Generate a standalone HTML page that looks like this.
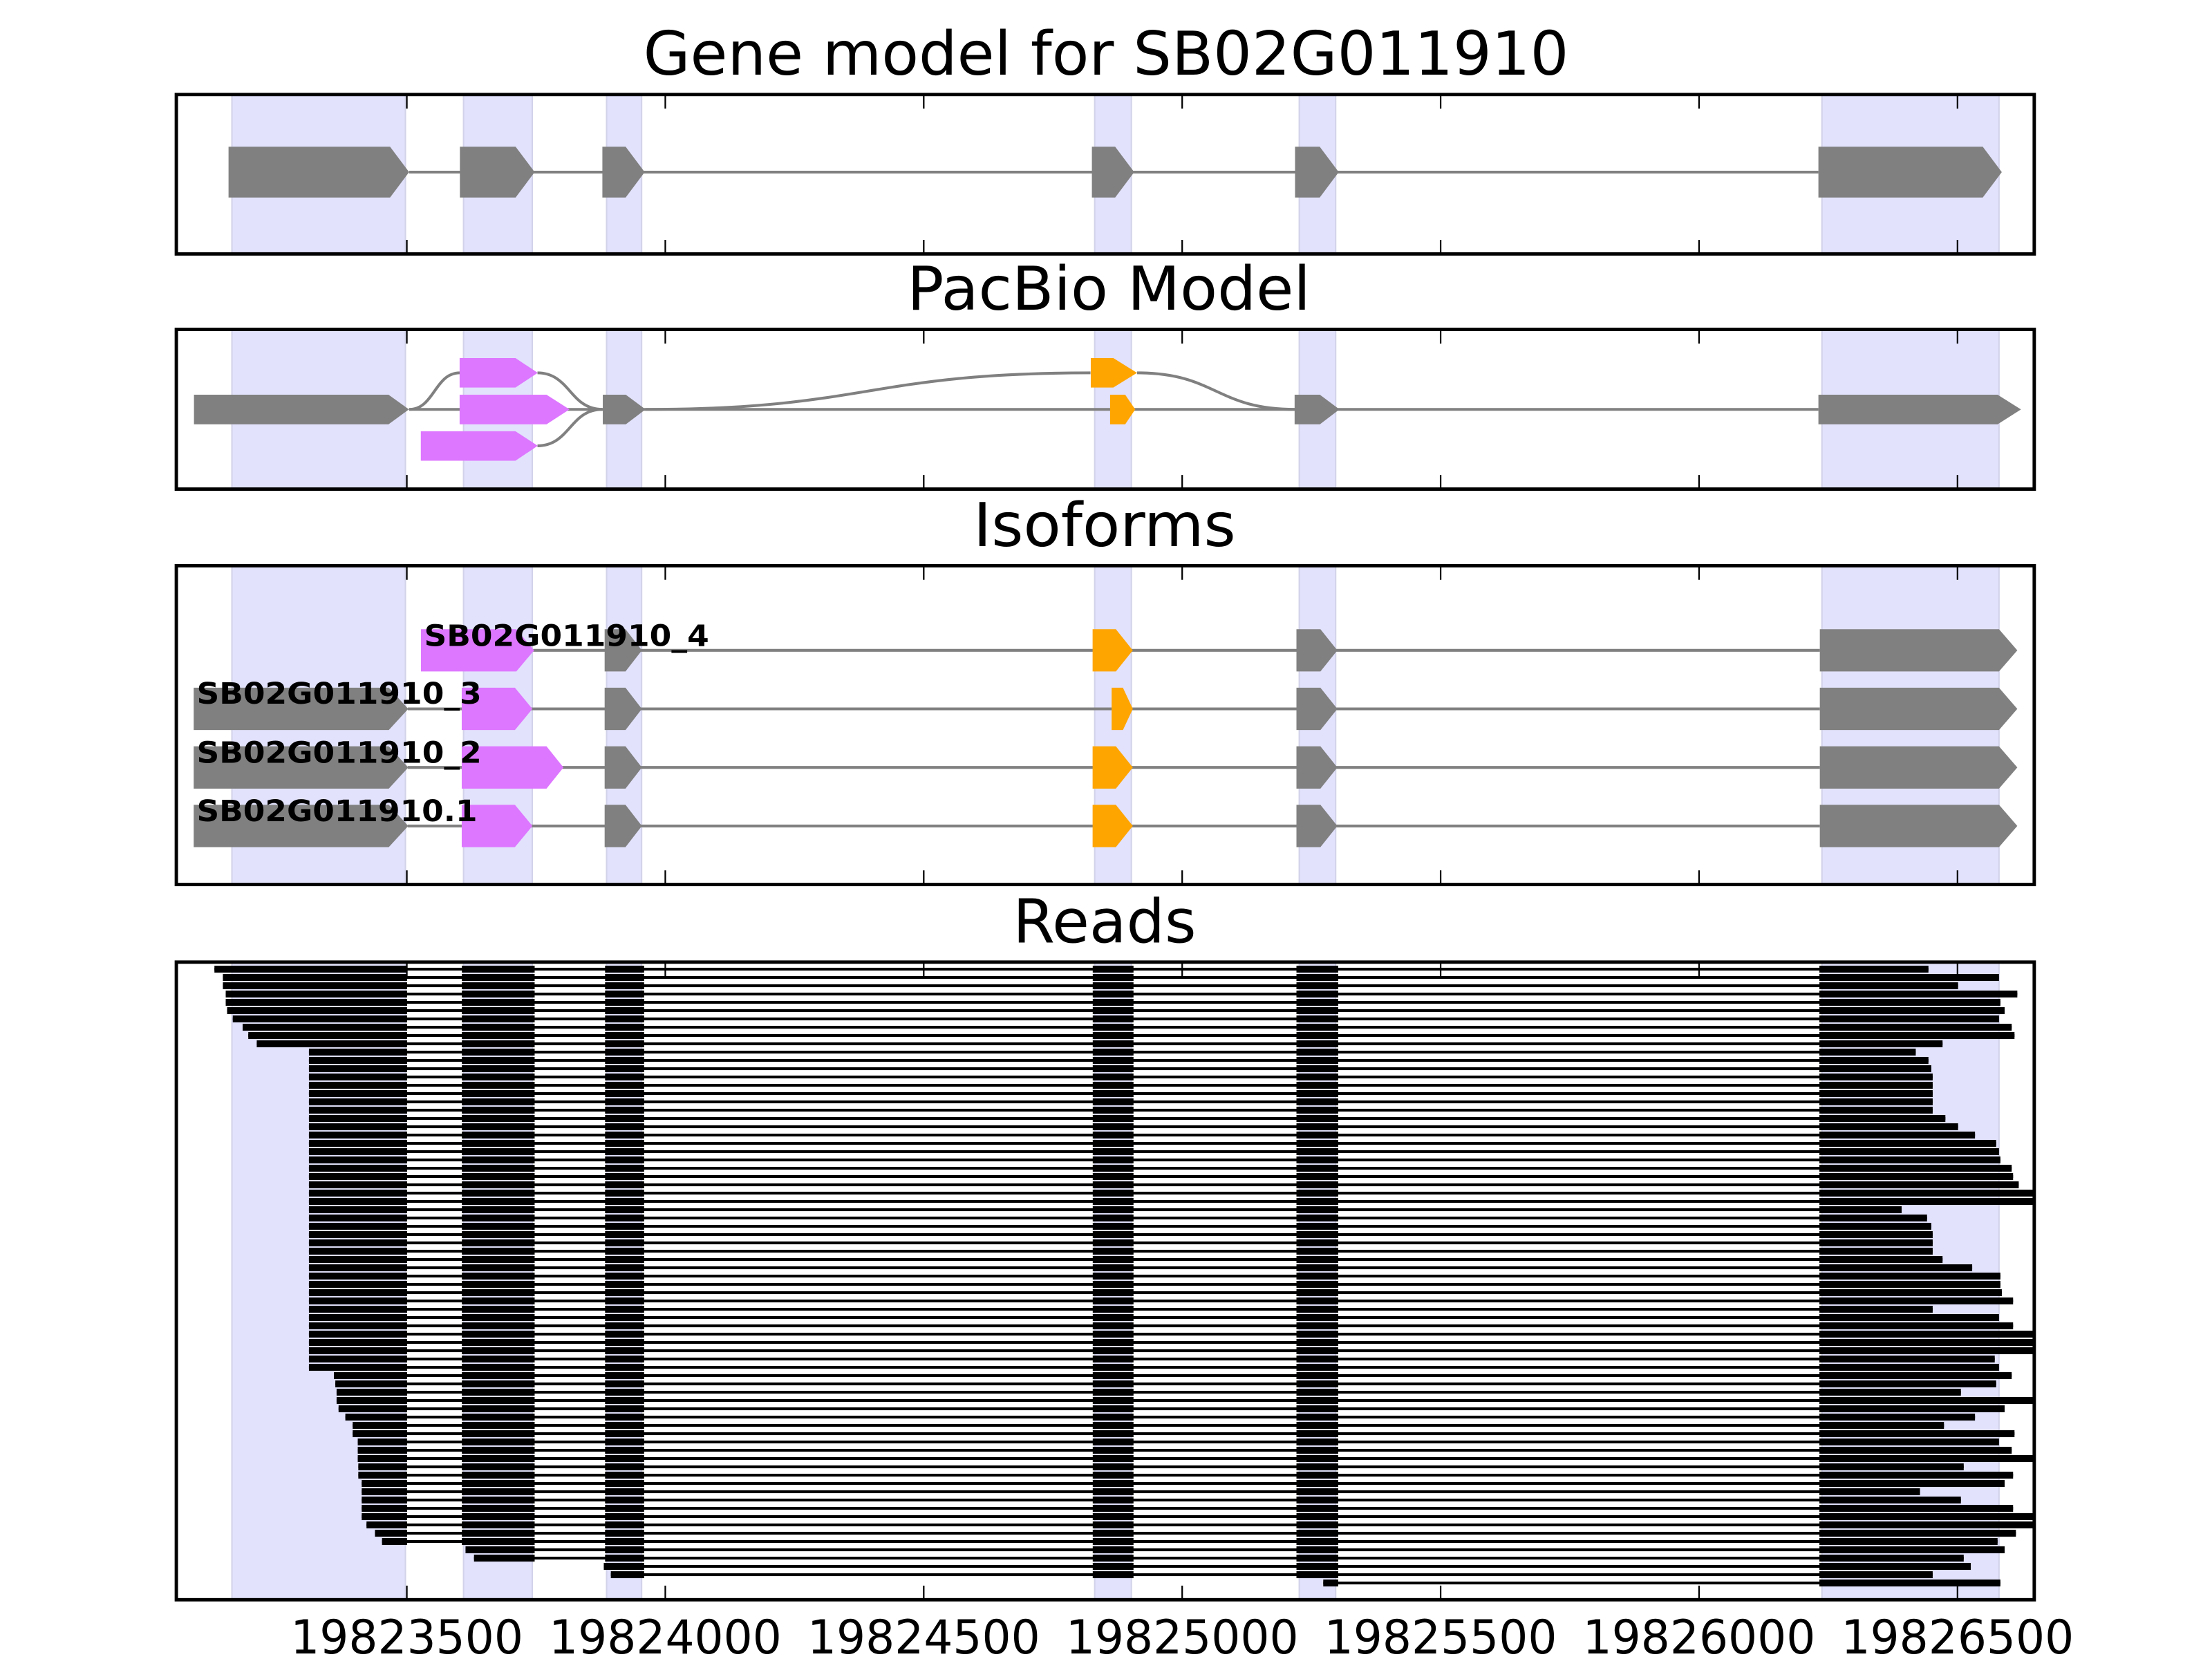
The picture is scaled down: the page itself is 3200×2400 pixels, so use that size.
<!DOCTYPE html>
<html><head><meta charset="utf-8"><style>
html,body{margin:0;padding:0;background:#fff;}
svg{display:block;}
text{font-family:"DejaVu Sans","Liberation Sans",sans-serif;}
</style></head><body>
<svg width="3200" height="2400" viewBox="0 0 1568 1176" xmlns="http://www.w3.org/2000/svg">
<defs>
<g id="m" fill="#000">
<rect x="327.4" y="-2.45" width="51.6" height="4.9"/>
<rect x="428.9" y="-2.45" width="27.7" height="4.9"/>
<rect x="774.6" y="-2.45" width="28.9" height="4.9"/>
<rect x="919" y="-2.45" width="29.6" height="4.9"/>
</g>
<g id="m3" fill="#000">
<rect x="428.9" y="-2.45" width="27.7" height="4.9"/>
<rect x="774.6" y="-2.45" width="28.9" height="4.9"/>
<rect x="919" y="-2.45" width="29.6" height="4.9"/>
</g>
<g id="m2" fill="#000">
<rect x="774.6" y="-2.45" width="28.9" height="4.9"/>
<rect x="919" y="-2.45" width="29.6" height="4.9"/>
</g>
<clipPath id="c4"><rect x="125" y="682" width="1317" height="452"/></clipPath>
</defs>
<rect width="1568" height="1176" fill="#fff"/>

<text x="784" y="52.8" font-size="43" text-anchor="middle" textLength="656" lengthAdjust="spacingAndGlyphs">Gene model for SB02G011910</text>
<text x="786" y="219.5" font-size="43" text-anchor="middle" textLength="286" lengthAdjust="spacingAndGlyphs">PacBio Model</text>
<text x="783" y="387" font-size="43" text-anchor="middle" textLength="186" lengthAdjust="spacingAndGlyphs">Isoforms</text>
<text x="783" y="668" font-size="43" text-anchor="middle" textLength="130" lengthAdjust="spacingAndGlyphs">Reads</text>

<g fill="#e2e2fc" stroke="#d2d2ea" stroke-width="1">
<rect x="164.4" y="67" width="123" height="113"/><rect x="328.6" y="67" width="48.7" height="113"/><rect x="430" y="67" width="24.8" height="113"/><rect x="776" y="67" width="26" height="113"/><rect x="921" y="67" width="25.8" height="113"/><rect x="1291.5" y="67" width="125.5" height="113"/>
<rect x="164.4" y="233.5" width="123" height="113.2"/><rect x="328.6" y="233.5" width="48.7" height="113.2"/><rect x="430" y="233.5" width="24.8" height="113.2"/><rect x="776" y="233.5" width="26" height="113.2"/><rect x="921" y="233.5" width="25.8" height="113.2"/><rect x="1291.5" y="233.5" width="125.5" height="113.2"/>
<rect x="164.4" y="401" width="123" height="226"/><rect x="328.6" y="401" width="48.7" height="226"/><rect x="430" y="401" width="24.8" height="226"/><rect x="776" y="401" width="26" height="226"/><rect x="921" y="401" width="25.8" height="226"/><rect x="1291.5" y="401" width="125.5" height="226"/>
<rect x="164.4" y="682" width="123" height="452"/><rect x="328.6" y="682" width="48.7" height="452"/><rect x="430" y="682" width="24.8" height="452"/><rect x="776" y="682" width="26" height="452"/><rect x="921" y="682" width="25.8" height="452"/><rect x="1291.5" y="682" width="125.5" height="452"/>
</g>

<line x1="290" y1="122" x2="1289" y2="122" stroke="#808080" stroke-width="2"/>
<g fill="#808080">
<polygon points="162,104 276.5,104 290,122 276.5,140 162,140"/>
<polygon points="326,104 365.5,104 379,122 365.5,140 326,140"/>
<polygon points="427,104 443.5,104 457,122 443.5,140 427,140"/>
<polygon points="774,104 790.5,104 804,122 790.5,140 774,140"/>
<polygon points="918,104 935.5,104 949,122 935.5,140 918,140"/>
<polygon points="1289,104 1405.5,104 1419,122 1405.5,140 1289,140"/>
</g>

<g fill="none" stroke="#808080" stroke-width="2">
<line x1="290" y1="290.2" x2="1289" y2="290.2"/>
<path d="M290,290.2 C308,290.2 308,264.3 326,264.3"/>
<path d="M381,264.3 C404,264.3 404,290.2 427,290.2"/>
<path d="M381,316 C404,316 404,290.2 427,290.2"/>
<path d="M457.6,290.2 C615,290.2 615,264.3 773,264.3"/>
<path d="M806,264.3 C862,264.3 862,290.2 918,290.2"/>
</g>
<polygon fill="#808080" points="137.5,279.8 275.4,279.8 289.9,290.2 275.4,300.8 137.5,300.8"/>
<polygon fill="#dd77ff" points="325.8,253.8 365.4,253.8 381.2,264.3 365.4,274.7 325.8,274.7"/>
<polygon fill="#dd77ff" points="325.8,279.8 387.4,279.8 403.7,290.2 387.4,300.8 325.8,300.8"/>
<polygon fill="#dd77ff" points="298.3,305.7 365.4,305.7 381.2,316 365.4,326.6 298.3,326.6"/>
<polygon fill="#808080" points="427.3,279.8 443.6,279.8 457.6,290.2 443.6,300.8 427.3,300.8"/>
<polygon fill="#ffa500" points="773.2,253.8 789.2,253.8 806,264.3 789.2,274.7 773.2,274.7"/>
<polygon fill="#ffa500" points="786.9,279.8 797.6,279.8 804.7,290.2 797.6,300.8 786.9,300.8"/>
<polygon fill="#808080" points="917.7,279.8 935.6,279.8 949.5,290.2 935.6,300.8 917.7,300.8"/>
<polygon fill="#808080" points="1289,279.8 1416,279.8 1432.6,290.2 1416,300.8 1289,300.8"/>

<g stroke="#808080" stroke-width="2">
<line x1="378" y1="461" x2="1290" y2="461"/>
<line x1="289" y1="502.5" x2="1290" y2="502.5"/>
<line x1="289" y1="544" x2="1290" y2="544"/>
<line x1="289" y1="585.5" x2="1290" y2="585.5"/>
</g>
<g fill="#808080">
<polygon fill="#dd77ff" points="298.4,446 366,446 378.6,461 366,476 298.4,476"/>
<polygon points="428.6,446 443.4,446 455,461 443.4,476 428.6,476"/>
<polygon fill="#ffa500" points="774.5,446 791,446 803,461 791,476 774.5,476"/>
<polygon points="919,446 936,446 948,461 936,476 919,476"/>
<polygon points="1290,446 1417,446 1430,461 1417,476 1290,476"/>
<polygon points="137.3,487.5 275.6,487.5 289.4,502.5 275.6,517.5 137.3,517.5"/>
<polygon fill="#dd77ff" points="327.3,487.5 365,487.5 377.4,502.5 365,517.5 327.3,517.5"/>
<polygon points="428.6,487.5 443.4,487.5 455,502.5 443.4,517.5 428.6,517.5"/>
<polygon fill="#ffa500" points="788,487.5 796,487.5 803,502.5 796,517.5 788,517.5"/>
<polygon points="919,487.5 936,487.5 948,502.5 936,517.5 919,517.5"/>
<polygon points="1290,487.5 1417,487.5 1430,502.5 1417,517.5 1290,517.5"/>
<polygon points="137.3,529 275.6,529 289.4,544 275.6,559 137.3,559"/>
<polygon fill="#dd77ff" points="327.3,529 387.4,529 399.4,544 387.4,559 327.3,559"/>
<polygon points="428.6,529 443.4,529 455,544 443.4,559 428.6,559"/>
<polygon fill="#ffa500" points="774.5,529 791,529 803,544 791,559 774.5,559"/>
<polygon points="919,529 936,529 948,544 936,559 919,559"/>
<polygon points="1290,529 1417,529 1430,544 1417,559 1290,559"/>
<polygon points="137.3,570.5 275.6,570.5 289.4,585.5 275.6,600.5 137.3,600.5"/>
<polygon fill="#dd77ff" points="327.3,570.5 365,570.5 377.4,585.5 365,600.5 327.3,600.5"/>
<polygon points="428.6,570.5 443.4,570.5 455,585.5 443.4,600.5 428.6,600.5"/>
<polygon fill="#ffa500" points="774.5,570.5 791,570.5 803,585.5 791,600.5 774.5,600.5"/>
<polygon points="919,570.5 936,570.5 948,585.5 936,600.5 919,600.5"/>
<polygon points="1290,570.5 1417,570.5 1430,585.5 1417,600.5 1290,600.5"/>
</g>
<g font-size="21" font-weight="bold" fill="#000">
<text x="300.6" y="458" textLength="202" lengthAdjust="spacingAndGlyphs">SB02G011910_4</text>
<text x="139.4" y="498.8" textLength="202" lengthAdjust="spacingAndGlyphs">SB02G011910_3</text>
<text x="139.4" y="540.6" textLength="202" lengthAdjust="spacingAndGlyphs">SB02G011910_2</text>
<text x="139.4" y="582" textLength="199" lengthAdjust="spacingAndGlyphs">SB02G011910.1</text>
</g>

<g clip-path="url(#c4)" fill="#000">
<g transform="translate(0,687)"><rect x="152" y="-1" width="1215" height="2"/><rect x="152" y="-2.45" width="136.6" height="4.9"/><use href="#m"/><rect x="1289.7" y="-2.45" width="77.3" height="4.9"/></g>
<g transform="translate(0,692.88)"><rect x="158" y="-1" width="1259" height="2"/><rect x="158" y="-2.45" width="130.6" height="4.9"/><use href="#m"/><rect x="1289.7" y="-2.45" width="127.3" height="4.9"/></g>
<g transform="translate(0,698.76)"><rect x="158" y="-1" width="1230" height="2"/><rect x="158" y="-2.45" width="130.6" height="4.9"/><use href="#m"/><rect x="1289.7" y="-2.45" width="98.3" height="4.9"/></g>
<g transform="translate(0,704.64)"><rect x="160" y="-1" width="1270" height="2"/><rect x="160" y="-2.45" width="128.6" height="4.9"/><use href="#m"/><rect x="1289.7" y="-2.45" width="140.3" height="4.9"/></g>
<g transform="translate(0,710.52)"><rect x="160" y="-1" width="1258" height="2"/><rect x="160" y="-2.45" width="128.6" height="4.9"/><use href="#m"/><rect x="1289.7" y="-2.45" width="128.3" height="4.9"/></g>
<g transform="translate(0,716.4)"><rect x="161" y="-1" width="1260" height="2"/><rect x="161" y="-2.45" width="127.6" height="4.9"/><use href="#m"/><rect x="1289.7" y="-2.45" width="131.3" height="4.9"/></g>
<g transform="translate(0,722.28)"><rect x="165" y="-1" width="1252" height="2"/><rect x="165" y="-2.45" width="123.6" height="4.9"/><use href="#m"/><rect x="1289.7" y="-2.45" width="127.3" height="4.9"/></g>
<g transform="translate(0,728.16)"><rect x="172" y="-1" width="1254" height="2"/><rect x="172" y="-2.45" width="116.6" height="4.9"/><use href="#m"/><rect x="1289.7" y="-2.45" width="136.3" height="4.9"/></g>
<g transform="translate(0,734.04)"><rect x="176" y="-1" width="1252" height="2"/><rect x="176" y="-2.45" width="112.6" height="4.9"/><use href="#m"/><rect x="1289.7" y="-2.45" width="138.3" height="4.9"/></g>
<g transform="translate(0,739.92)"><rect x="182" y="-1" width="1195" height="2"/><rect x="182" y="-2.45" width="106.6" height="4.9"/><use href="#m"/><rect x="1289.7" y="-2.45" width="87.3" height="4.9"/></g>
<g transform="translate(0,745.8)"><rect x="219" y="-1" width="1139" height="2"/><rect x="219" y="-2.45" width="69.6" height="4.9"/><use href="#m"/><rect x="1289.7" y="-2.45" width="68.3" height="4.9"/></g>
<g transform="translate(0,751.68)"><rect x="219" y="-1" width="1148" height="2"/><rect x="219" y="-2.45" width="69.6" height="4.9"/><use href="#m"/><rect x="1289.7" y="-2.45" width="77.3" height="4.9"/></g>
<g transform="translate(0,757.56)"><rect x="219" y="-1" width="1150" height="2"/><rect x="219" y="-2.45" width="69.6" height="4.9"/><use href="#m"/><rect x="1289.7" y="-2.45" width="79.3" height="4.9"/></g>
<g transform="translate(0,763.44)"><rect x="219" y="-1" width="1151" height="2"/><rect x="219" y="-2.45" width="69.6" height="4.9"/><use href="#m"/><rect x="1289.7" y="-2.45" width="80.3" height="4.9"/></g>
<g transform="translate(0,769.32)"><rect x="219" y="-1" width="1151" height="2"/><rect x="219" y="-2.45" width="69.6" height="4.9"/><use href="#m"/><rect x="1289.7" y="-2.45" width="80.3" height="4.9"/></g>
<g transform="translate(0,775.2)"><rect x="219" y="-1" width="1151" height="2"/><rect x="219" y="-2.45" width="69.6" height="4.9"/><use href="#m"/><rect x="1289.7" y="-2.45" width="80.3" height="4.9"/></g>
<g transform="translate(0,781.08)"><rect x="219" y="-1" width="1151" height="2"/><rect x="219" y="-2.45" width="69.6" height="4.9"/><use href="#m"/><rect x="1289.7" y="-2.45" width="80.3" height="4.9"/></g>
<g transform="translate(0,786.96)"><rect x="219" y="-1" width="1151" height="2"/><rect x="219" y="-2.45" width="69.6" height="4.9"/><use href="#m"/><rect x="1289.7" y="-2.45" width="80.3" height="4.9"/></g>
<g transform="translate(0,792.84)"><rect x="219" y="-1" width="1160" height="2"/><rect x="219" y="-2.45" width="69.6" height="4.9"/><use href="#m"/><rect x="1289.7" y="-2.45" width="89.3" height="4.9"/></g>
<g transform="translate(0,798.72)"><rect x="219" y="-1" width="1169" height="2"/><rect x="219" y="-2.45" width="69.6" height="4.9"/><use href="#m"/><rect x="1289.7" y="-2.45" width="98.3" height="4.9"/></g>
<g transform="translate(0,804.6)"><rect x="219" y="-1" width="1181" height="2"/><rect x="219" y="-2.45" width="69.6" height="4.9"/><use href="#m"/><rect x="1289.7" y="-2.45" width="110.3" height="4.9"/></g>
<g transform="translate(0,810.48)"><rect x="219" y="-1" width="1196" height="2"/><rect x="219" y="-2.45" width="69.6" height="4.9"/><use href="#m"/><rect x="1289.7" y="-2.45" width="125.3" height="4.9"/></g>
<g transform="translate(0,816.36)"><rect x="219" y="-1" width="1198" height="2"/><rect x="219" y="-2.45" width="69.6" height="4.9"/><use href="#m"/><rect x="1289.7" y="-2.45" width="127.3" height="4.9"/></g>
<g transform="translate(0,822.24)"><rect x="219" y="-1" width="1199" height="2"/><rect x="219" y="-2.45" width="69.6" height="4.9"/><use href="#m"/><rect x="1289.7" y="-2.45" width="128.3" height="4.9"/></g>
<g transform="translate(0,828.12)"><rect x="219" y="-1" width="1207" height="2"/><rect x="219" y="-2.45" width="69.6" height="4.9"/><use href="#m"/><rect x="1289.7" y="-2.45" width="136.3" height="4.9"/></g>
<g transform="translate(0,834)"><rect x="219" y="-1" width="1208" height="2"/><rect x="219" y="-2.45" width="69.6" height="4.9"/><use href="#m"/><rect x="1289.7" y="-2.45" width="137.3" height="4.9"/></g>
<g transform="translate(0,839.88)"><rect x="219" y="-1" width="1212" height="2"/><rect x="219" y="-2.45" width="69.6" height="4.9"/><use href="#m"/><rect x="1289.7" y="-2.45" width="141.3" height="4.9"/></g>
<g transform="translate(0,845.76)"><rect x="219" y="-1" width="1223" height="2"/><rect x="219" y="-2.45" width="69.6" height="4.9"/><use href="#m"/><rect x="1289.7" y="-2.45" width="152.3" height="4.9"/></g>
<g transform="translate(0,851.64)"><rect x="219" y="-1" width="1223" height="2"/><rect x="219" y="-2.45" width="69.6" height="4.9"/><use href="#m"/><rect x="1289.7" y="-2.45" width="152.3" height="4.9"/></g>
<g transform="translate(0,857.52)"><rect x="219" y="-1" width="1129" height="2"/><rect x="219" y="-2.45" width="69.6" height="4.9"/><use href="#m"/><rect x="1289.7" y="-2.45" width="58.3" height="4.9"/></g>
<g transform="translate(0,863.4)"><rect x="219" y="-1" width="1147" height="2"/><rect x="219" y="-2.45" width="69.6" height="4.9"/><use href="#m"/><rect x="1289.7" y="-2.45" width="76.3" height="4.9"/></g>
<g transform="translate(0,869.28)"><rect x="219" y="-1" width="1150" height="2"/><rect x="219" y="-2.45" width="69.6" height="4.9"/><use href="#m"/><rect x="1289.7" y="-2.45" width="79.3" height="4.9"/></g>
<g transform="translate(0,875.16)"><rect x="219" y="-1" width="1151" height="2"/><rect x="219" y="-2.45" width="69.6" height="4.9"/><use href="#m"/><rect x="1289.7" y="-2.45" width="80.3" height="4.9"/></g>
<g transform="translate(0,881.04)"><rect x="219" y="-1" width="1151" height="2"/><rect x="219" y="-2.45" width="69.6" height="4.9"/><use href="#m"/><rect x="1289.7" y="-2.45" width="80.3" height="4.9"/></g>
<g transform="translate(0,886.92)"><rect x="219" y="-1" width="1151" height="2"/><rect x="219" y="-2.45" width="69.6" height="4.9"/><use href="#m"/><rect x="1289.7" y="-2.45" width="80.3" height="4.9"/></g>
<g transform="translate(0,892.8)"><rect x="219" y="-1" width="1158" height="2"/><rect x="219" y="-2.45" width="69.6" height="4.9"/><use href="#m"/><rect x="1289.7" y="-2.45" width="87.3" height="4.9"/></g>
<g transform="translate(0,898.68)"><rect x="219" y="-1" width="1179" height="2"/><rect x="219" y="-2.45" width="69.6" height="4.9"/><use href="#m"/><rect x="1289.7" y="-2.45" width="108.3" height="4.9"/></g>
<g transform="translate(0,904.56)"><rect x="219" y="-1" width="1199" height="2"/><rect x="219" y="-2.45" width="69.6" height="4.9"/><use href="#m"/><rect x="1289.7" y="-2.45" width="128.3" height="4.9"/></g>
<g transform="translate(0,910.44)"><rect x="219" y="-1" width="1199" height="2"/><rect x="219" y="-2.45" width="69.6" height="4.9"/><use href="#m"/><rect x="1289.7" y="-2.45" width="128.3" height="4.9"/></g>
<g transform="translate(0,916.32)"><rect x="219" y="-1" width="1200" height="2"/><rect x="219" y="-2.45" width="69.6" height="4.9"/><use href="#m"/><rect x="1289.7" y="-2.45" width="129.3" height="4.9"/></g>
<g transform="translate(0,922.2)"><rect x="219" y="-1" width="1208" height="2"/><rect x="219" y="-2.45" width="69.6" height="4.9"/><use href="#m"/><rect x="1289.7" y="-2.45" width="137.3" height="4.9"/></g>
<g transform="translate(0,928.08)"><rect x="219" y="-1" width="1151" height="2"/><rect x="219" y="-2.45" width="69.6" height="4.9"/><use href="#m"/><rect x="1289.7" y="-2.45" width="80.3" height="4.9"/></g>
<g transform="translate(0,933.96)"><rect x="219" y="-1" width="1198" height="2"/><rect x="219" y="-2.45" width="69.6" height="4.9"/><use href="#m"/><rect x="1289.7" y="-2.45" width="127.3" height="4.9"/></g>
<g transform="translate(0,939.84)"><rect x="219" y="-1" width="1208" height="2"/><rect x="219" y="-2.45" width="69.6" height="4.9"/><use href="#m"/><rect x="1289.7" y="-2.45" width="137.3" height="4.9"/></g>
<g transform="translate(0,945.72)"><rect x="219" y="-1" width="1223" height="2"/><rect x="219" y="-2.45" width="69.6" height="4.9"/><use href="#m"/><rect x="1289.7" y="-2.45" width="152.3" height="4.9"/></g>
<g transform="translate(0,951.6)"><rect x="219" y="-1" width="1223" height="2"/><rect x="219" y="-2.45" width="69.6" height="4.9"/><use href="#m"/><rect x="1289.7" y="-2.45" width="152.3" height="4.9"/></g>
<g transform="translate(0,957.48)"><rect x="219" y="-1" width="1223" height="2"/><rect x="219" y="-2.45" width="69.6" height="4.9"/><use href="#m"/><rect x="1289.7" y="-2.45" width="152.3" height="4.9"/></g>
<g transform="translate(0,963.36)"><rect x="219" y="-1" width="1195" height="2"/><rect x="219" y="-2.45" width="69.6" height="4.9"/><use href="#m"/><rect x="1289.7" y="-2.45" width="124.3" height="4.9"/></g>
<g transform="translate(0,969.24)"><rect x="219" y="-1" width="1198" height="2"/><rect x="219" y="-2.45" width="69.6" height="4.9"/><use href="#m"/><rect x="1289.7" y="-2.45" width="127.3" height="4.9"/></g>
<g transform="translate(0,975.12)"><rect x="236.7" y="-1" width="1189.3" height="2"/><rect x="236.7" y="-2.45" width="51.9" height="4.9"/><use href="#m"/><rect x="1289.7" y="-2.45" width="136.3" height="4.9"/></g>
<g transform="translate(0,981)"><rect x="237.7" y="-1" width="1177.3" height="2"/><rect x="237.7" y="-2.45" width="50.9" height="4.9"/><use href="#m"/><rect x="1289.7" y="-2.45" width="125.3" height="4.9"/></g>
<g transform="translate(0,986.88)"><rect x="238.6" y="-1" width="1151.4" height="2"/><rect x="238.6" y="-2.45" width="50" height="4.9"/><use href="#m"/><rect x="1289.7" y="-2.45" width="100.3" height="4.9"/></g>
<g transform="translate(0,992.76)"><rect x="238.6" y="-1" width="1203.4" height="2"/><rect x="238.6" y="-2.45" width="50" height="4.9"/><use href="#m"/><rect x="1289.7" y="-2.45" width="152.3" height="4.9"/></g>
<g transform="translate(0,998.64)"><rect x="240" y="-1" width="1181" height="2"/><rect x="240" y="-2.45" width="48.6" height="4.9"/><use href="#m"/><rect x="1289.7" y="-2.45" width="131.3" height="4.9"/></g>
<g transform="translate(0,1004.52)"><rect x="244.8" y="-1" width="1155.2" height="2"/><rect x="244.8" y="-2.45" width="43.8" height="4.9"/><use href="#m"/><rect x="1289.7" y="-2.45" width="110.3" height="4.9"/></g>
<g transform="translate(0,1010.4)"><rect x="250" y="-1" width="1128" height="2"/><rect x="250" y="-2.45" width="38.6" height="4.9"/><use href="#m"/><rect x="1289.7" y="-2.45" width="88.3" height="4.9"/></g>
<g transform="translate(0,1016.28)"><rect x="250" y="-1" width="1178" height="2"/><rect x="250" y="-2.45" width="38.6" height="4.9"/><use href="#m"/><rect x="1289.7" y="-2.45" width="138.3" height="4.9"/></g>
<g transform="translate(0,1022.16)"><rect x="253.6" y="-1" width="1163.4" height="2"/><rect x="253.6" y="-2.45" width="35" height="4.9"/><use href="#m"/><rect x="1289.7" y="-2.45" width="127.3" height="4.9"/></g>
<g transform="translate(0,1028.04)"><rect x="253.6" y="-1" width="1172.4" height="2"/><rect x="253.6" y="-2.45" width="35" height="4.9"/><use href="#m"/><rect x="1289.7" y="-2.45" width="136.3" height="4.9"/></g>
<g transform="translate(0,1033.92)"><rect x="253.6" y="-1" width="1188.4" height="2"/><rect x="253.6" y="-2.45" width="35" height="4.9"/><use href="#m"/><rect x="1289.7" y="-2.45" width="152.3" height="4.9"/></g>
<g transform="translate(0,1039.8)"><rect x="254" y="-1" width="1138" height="2"/><rect x="254" y="-2.45" width="34.6" height="4.9"/><use href="#m"/><rect x="1289.7" y="-2.45" width="102.3" height="4.9"/></g>
<g transform="translate(0,1045.68)"><rect x="254" y="-1" width="1173" height="2"/><rect x="254" y="-2.45" width="34.6" height="4.9"/><use href="#m"/><rect x="1289.7" y="-2.45" width="137.3" height="4.9"/></g>
<g transform="translate(0,1051.56)"><rect x="256.4" y="-1" width="1164.6" height="2"/><rect x="256.4" y="-2.45" width="32.2" height="4.9"/><use href="#m"/><rect x="1289.7" y="-2.45" width="131.3" height="4.9"/></g>
<g transform="translate(0,1057.44)"><rect x="256.4" y="-1" width="1104.6" height="2"/><rect x="256.4" y="-2.45" width="32.2" height="4.9"/><use href="#m"/><rect x="1289.7" y="-2.45" width="71.3" height="4.9"/></g>
<g transform="translate(0,1063.32)"><rect x="256.4" y="-1" width="1133.6" height="2"/><rect x="256.4" y="-2.45" width="32.2" height="4.9"/><use href="#m"/><rect x="1289.7" y="-2.45" width="100.3" height="4.9"/></g>
<g transform="translate(0,1069.2)"><rect x="256.4" y="-1" width="1170.6" height="2"/><rect x="256.4" y="-2.45" width="32.2" height="4.9"/><use href="#m"/><rect x="1289.7" y="-2.45" width="137.3" height="4.9"/></g>
<g transform="translate(0,1075.08)"><rect x="256.4" y="-1" width="1185.6" height="2"/><rect x="256.4" y="-2.45" width="32.2" height="4.9"/><use href="#m"/><rect x="1289.7" y="-2.45" width="152.3" height="4.9"/></g>
<g transform="translate(0,1080.96)"><rect x="259.8" y="-1" width="1182.2" height="2"/><rect x="259.8" y="-2.45" width="28.8" height="4.9"/><use href="#m"/><rect x="1289.7" y="-2.45" width="152.3" height="4.9"/></g>
<g transform="translate(0,1086.84)"><rect x="265.8" y="-1" width="1163.2" height="2"/><rect x="265.8" y="-2.45" width="22.8" height="4.9"/><use href="#m"/><rect x="1289.7" y="-2.45" width="139.3" height="4.9"/></g>
<g transform="translate(0,1092.72)"><rect x="270.8" y="-1" width="1145.2" height="2"/><rect x="270.8" y="-2.45" width="17.8" height="4.9"/><use href="#m"/><rect x="1289.7" y="-2.45" width="126.3" height="4.9"/></g>
<g transform="translate(0,1098.6)"><rect x="330" y="-1" width="1091" height="2"/><rect x="330" y="-2.45" width="49" height="4.9"/><use href="#m3"/><rect x="1289.7" y="-2.45" width="131.3" height="4.9"/></g>
<g transform="translate(0,1104.48)"><rect x="336" y="-1" width="1056" height="2"/><rect x="336" y="-2.45" width="43" height="4.9"/><use href="#m3"/><rect x="1289.7" y="-2.45" width="102.3" height="4.9"/></g>
<g transform="translate(0,1110.36)"><rect x="428" y="-1" width="969" height="2"/><rect x="428" y="-2.45" width="28.6" height="4.9"/><use href="#m2"/><rect x="1289.7" y="-2.45" width="107.3" height="4.9"/></g>
<g transform="translate(0,1116.24)"><rect x="433" y="-1" width="937" height="2"/><rect x="433" y="-2.45" width="23.6" height="4.9"/><use href="#m2"/><rect x="1289.7" y="-2.45" width="80.3" height="4.9"/></g>
<g transform="translate(0,1122.12)"><rect x="938" y="-1" width="480" height="2"/><rect x="938" y="-2.45" width="10.6" height="4.9"/><rect x="1289.7" y="-2.45" width="128.3" height="4.9"/></g>
</g>

<g fill="none" stroke="#000" stroke-width="2.4">
<rect x="125" y="67" width="1317" height="113"/>
<rect x="125" y="233.5" width="1317" height="113.2"/>
<rect x="125" y="401" width="1317" height="226"/>
<rect x="125" y="682" width="1317" height="452"/>
</g>
<g stroke="#000" stroke-width="1.1">
<path d="M288.4,67v10M471.6,67v10M654.8,67v10M838,67v10M1021.2,67v10M1204.4,67v10M1387.6,67v10M288.4,180v-10M471.6,180v-10M654.8,180v-10M838,180v-10M1021.2,180v-10M1204.4,180v-10M1387.6,180v-10M288.4,233.5v10M471.6,233.5v10M654.8,233.5v10M838,233.5v10M1021.2,233.5v10M1204.4,233.5v10M1387.6,233.5v10M288.4,346.7v-10M471.6,346.7v-10M654.8,346.7v-10M838,346.7v-10M1021.2,346.7v-10M1204.4,346.7v-10M1387.6,346.7v-10M288.4,401v10M471.6,401v10M654.8,401v10M838,401v10M1021.2,401v10M1204.4,401v10M1387.6,401v10M288.4,627v-10M471.6,627v-10M654.8,627v-10M838,627v-10M1021.2,627v-10M1204.4,627v-10M1387.6,627v-10M288.4,682v10M471.6,682v10M654.8,682v10M838,682v10M1021.2,682v10M1204.4,682v10M1387.6,682v10M288.4,1134v-10M471.6,1134v-10M654.8,1134v-10M838,1134v-10M1021.2,1134v-10M1204.4,1134v-10M1387.6,1134v-10"/>
</g>
<g font-size="33" text-anchor="middle" fill="#000">
<text x="288.4" y="1172" textLength="165" lengthAdjust="spacingAndGlyphs">19823500</text>
<text x="471.6" y="1172" textLength="165" lengthAdjust="spacingAndGlyphs">19824000</text>
<text x="654.8" y="1172" textLength="165" lengthAdjust="spacingAndGlyphs">19824500</text>
<text x="838" y="1172" textLength="165" lengthAdjust="spacingAndGlyphs">19825000</text>
<text x="1021.2" y="1172" textLength="165" lengthAdjust="spacingAndGlyphs">19825500</text>
<text x="1204.4" y="1172" textLength="165" lengthAdjust="spacingAndGlyphs">19826000</text>
<text x="1387.6" y="1172" textLength="165" lengthAdjust="spacingAndGlyphs">19826500</text>
</g>
</svg>
</body></html>
